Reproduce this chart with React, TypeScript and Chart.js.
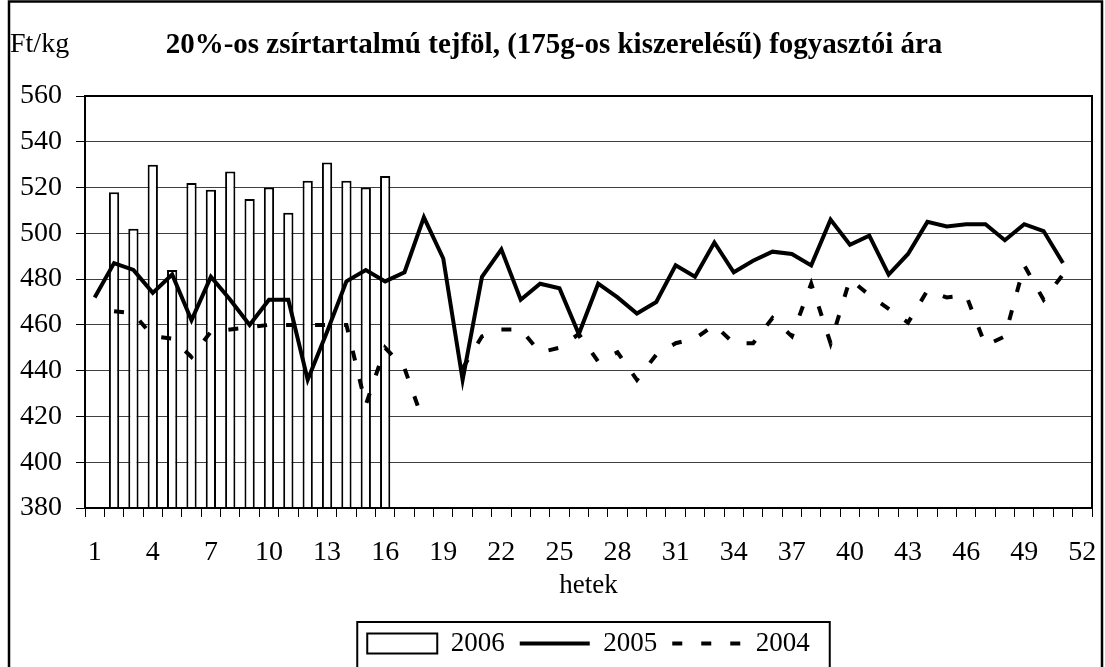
import { useEffect, useRef } from 'react';
import { Chart, registerables } from 'chart.js';

Chart.register(...registerables);

const weeks = ['1', '2', '3', '4', '5', '6', '7', '8', '9', '10', '11', '12', '13', '14', '15', '16', '17', '18', '19', '20', '21', '22', '23', '24', '25', '26', '27', '28', '29', '30', '31', '32', '33', '34', '35', '36', '37', '38', '39', '40', '41', '42', '43', '44', '45', '46', '47', '48', '49', '50', '51', '52'];

const values2006 = [null, 518, 502, 530, 484, 522, 519, 527, 515, 520, 509, 523, 531, 523, 520, 525,
  null, null, null, null, null, null, null, null, null, null, null, null, null, null, null, null, null, null, null, null,
  null, null, null, null, null, null, null, null, null, null, null, null, null, null, null, null];

const values2005 = [472, 487, 484, 474, 482, 462, 481, 471, 460, 471, 471, 436, 457, 479, 484, 479, 483, 507, 489, 436,
  481, 493, 471, 478, 476, 456, 478, 472, 465, 470, 486, 481, 496, 483, 488, 492, 491, 486, 506, 495,
  499, 482, 491, 505, 503, 504, 504, 497, 504, 501, 487, null];

const values2004 = [null, 466, 465, 455, 454, 446, 457, 458, 459, 460, 460, 460, 460, 460, 425, 450, 441, 417, null, 441,
  455, 458, 458, 448, 450, 456, 444, 448, 436, 447, 452, 454, 460, 452, 452, 463, 455, 478, 452, 480,
  473, 467, 461, 475, 472, 473, 451, 455, 486, 471, 482, null];

const seriesNames = ['2006', '2005', '2004'];
const yMin = 380;
const yMax = 560;
const yStep = 20;
const labelEvery = 3;
const titleText = '20%-os zsírtartalmú tejföl, (175g-os kiszerelésű) fogyasztói ára';
const yUnit = 'Ft/kg';
const xTitle = 'hetek';

const FONT = '"Liberation Serif", "Times New Roman", serif';

const framePlugin = {
  id: 'frame',
  afterDraw(chart: any) {
    const { ctx, chartArea } = chart;
    ctx.save();
    ctx.strokeStyle = '#000';
    ctx.lineWidth = 2;
    ctx.strokeRect(chartArea.left, chartArea.top, chartArea.right - chartArea.left, chartArea.bottom - chartArea.top);
    ctx.lineWidth = 2.5;
    ctx.beginPath();
    ctx.moveTo(9, 700);
    ctx.lineTo(9, 1.5);
    ctx.lineTo(1102, 1.5);
    ctx.lineTo(1102, 700);
    ctx.stroke();
    const boxes = chart.legend && chart.legend.legendHitBoxes;
    if (boxes && boxes.length) {
      const first = boxes[0];
      const last = boxes[boxes.length - 1];
      const l = first.left - 10;
      const r = last.left + last.width + 20;
      const t = first.top - 8;
      ctx.lineWidth = 2;
      ctx.beginPath();
      ctx.moveTo(l, 700);
      ctx.lineTo(l, t);
      ctx.lineTo(r, t);
      ctx.lineTo(r, 700);
      ctx.stroke();
    }
    ctx.fillStyle = '#000';
    ctx.font = `28px ${FONT}`;
    ctx.textBaseline = 'alphabetic';
    ctx.textAlign = 'left';
    ctx.fillText(yUnit, 10, 52);
    ctx.restore();
  },
};

export default function App() {
  const ref = useRef<HTMLCanvasElement | null>(null);

  useEffect(() => {
    if (!ref.current) return;
    const chart = new Chart(ref.current, {
      type: 'bar',
      data: {
        labels: weeks,
        datasets: [
          {
            type: 'bar',
            label: seriesNames[0],
            data: values2006,
            backgroundColor: '#ffffff',
            borderColor: '#000000',
            borderWidth: 2,
            barPercentage: 0.53,
            categoryPercentage: 1,
            order: 3,
            pointStyle: 'rect',
          } as any,
          {
            type: 'line',
            label: seriesNames[1],
            data: values2005,
            borderColor: '#000000',
            backgroundColor: '#000000',
            borderWidth: 4,
            pointRadius: 0,
            tension: 0,
            order: 1,
            pointStyle: 'line',
          } as any,
          {
            type: 'line',
            label: seriesNames[2],
            data: values2004,
            borderColor: '#000000',
            backgroundColor: '#000000',
            borderWidth: 4,
            borderDash: [10, 19],
            pointRadius: 0,
            tension: 0,
            order: 2,
            pointStyle: 'line',
          } as any,
        ],
      },
      options: {
        responsive: false,
        animation: false,
        devicePixelRatio: 1,
        layout: { padding: { left: 3, right: 0, top: 0, bottom: 0 } },
        plugins: {
          title: {
            display: true,
            text: titleText,
            color: '#000',
            font: { family: FONT, size: 29, weight: 'bold' },
            padding: { top: 28.6, bottom: 32.6 },
          },
          legend: {
            display: true,
            position: 'bottom',
            fullSize: false,
            labels: {
              color: '#000',
              font: { family: FONT, size: 27 },
              usePointStyle: true,
              pointStyleWidth: 70,
              boxHeight: 20,
              padding: 15,
              sort: (a: any, b: any) => a.datasetIndex - b.datasetIndex,
              generateLabels: (c: any) => {
                const items = Chart.defaults.plugins.legend.labels.generateLabels(c);
                items.forEach((it: any) => {
                  const ds: any = c.data.datasets[it.datasetIndex];
                  it.lineDash = ds.borderDash || [];
                  it.lineWidth = ds.borderWidth;
                  it.pointStyle = ds.pointStyle;
                  it.strokeStyle = ds.borderColor;
                  it.fillStyle = ds.backgroundColor;
                });
                return items;
              },
            },
          },
          tooltip: { enabled: false },
        },
        scales: {
          x: {
            grid: { drawOnChartArea: false, drawTicks: true, tickLength: 9, color: '#000', lineWidth: 1, offset: true },
            border: { display: true, color: '#000', width: 2 },
            ticks: {
              autoSkip: false,
              maxRotation: 0,
              color: '#000',
              font: { family: FONT, size: 28 },
              padding: 19,
              callback: (_v: any, i: number) => (i % labelEvery === 0 ? weeks[i] : ''),
            },
            title: { display: true, text: xTitle, color: '#000', font: { family: FONT, size: 27 }, padding: { top: 0, bottom: 13 } },
            afterFit: (s: any) => { s.height = 107; s.paddingLeft = 0; s.paddingRight = 13; },
          },
          y: {
            min: yMin,
            max: yMax,
            ticks: { stepSize: yStep, color: '#000', font: { family: FONT, size: 28 }, padding: 14 },
            grid: { color: '#404040', lineWidth: 1, tickLength: 9, tickColor: '#000' },
            border: { display: true, color: '#000', width: 2 },
            afterFit: (s: any) => { s.width = 82; s.paddingTop = 0; s.paddingBottom = 0; },
          },
        },
      } as any,
      plugins: [framePlugin],
    });
    return () => chart.destroy();
  }, []);

  return (
    <div style={{ position: 'absolute', left: 0, top: 0, width: 1105, height: 667, background: '#fff' }}>
      <canvas ref={ref} width={1105} height={667} />
    </div>
  );
}
